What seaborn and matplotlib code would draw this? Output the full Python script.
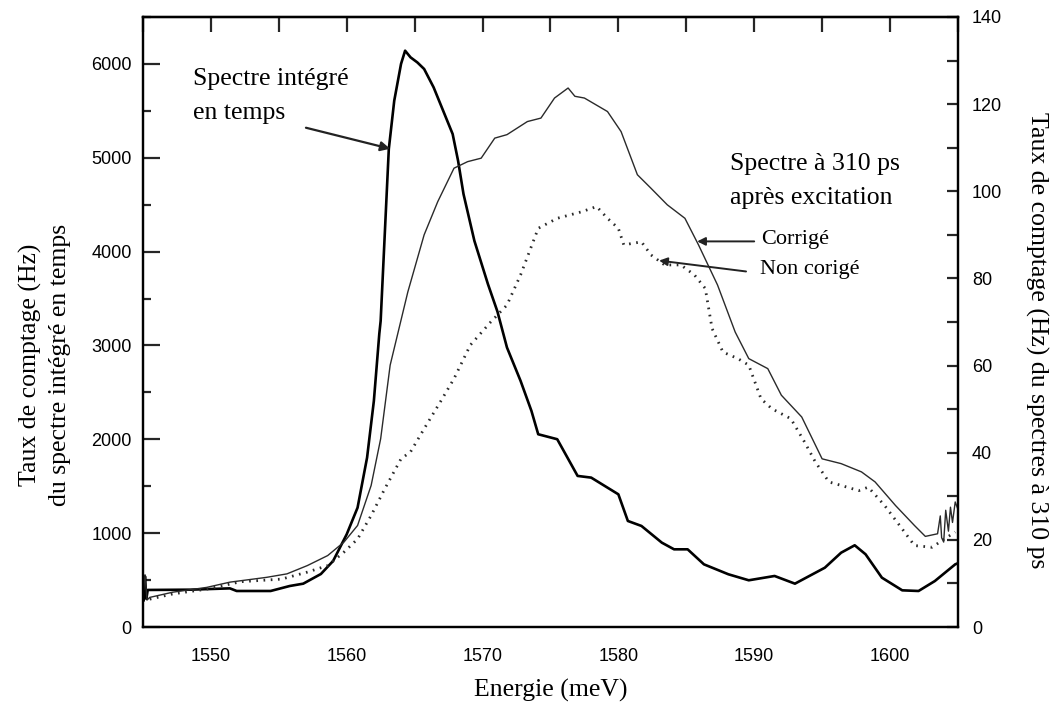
import matplotlib
matplotlib.use("Agg")
import matplotlib.pyplot as plt
from matplotlib.ticker import MultipleLocator
import seaborn as sns
import pandas as pd

# Time-integrated spectrum (left axis, Hz)
energy_int = [1545.05, 1545.15, 1545.25, 1545.35, 1548.5, 1551.4, 1551.9, 1554.4, 1555.8,
              1556.8, 1558.1, 1559.0, 1560.0, 1560.8, 1561.5, 1562.0, 1562.4, 1562.5,
              1563.1, 1563.5, 1564.0, 1564.3, 1564.7, 1565.2, 1565.7, 1566.4, 1567.2,
              1567.8, 1568.2, 1568.6, 1569.4, 1570.4, 1571.1, 1571.8, 1572.8, 1573.6,
              1574.1, 1575.5, 1577.0, 1578.0, 1580.0, 1580.7, 1581.7, 1583.2, 1584.1,
              1585.1, 1586.3, 1588.1, 1589.6, 1591.5, 1593.0, 1595.2, 1596.4, 1597.4,
              1598.2, 1599.4, 1600.9, 1602.1, 1603.3, 1604.8, 1605.0]
counts_int = [280, 540, 300, 395, 398, 412, 384, 384, 437,
              462, 565, 704, 988, 1272, 1805, 2409, 3124, 3262,
              5093, 5608, 6000, 6141, 6070, 6016, 5946, 5750, 5466,
              5253, 4968, 4613, 4115, 3653, 3360, 2978, 2623, 2303,
              2054, 2001, 1610, 1592, 1414, 1130, 1077, 899, 828,
              828, 668, 562, 498, 544, 462, 632, 792, 871,
              775, 526, 391, 384, 490, 668, 680]

# Spectrum 310 ps after excitation, corrected (right axis, Hz)
energy_corr = [1545.05, 1545.15, 1545.3, 1545.5, 1547.2, 1549.7, 1551.4, 1554.1, 1555.6,
               1557.1, 1558.6, 1559.8, 1560.8, 1561.8, 1562.5, 1563.2, 1564.5, 1565.7,
               1566.7, 1567.9, 1568.9, 1569.9, 1570.9, 1571.8, 1573.3, 1574.3, 1575.3,
               1576.3, 1576.8, 1577.5, 1579.2, 1580.2, 1581.4, 1582.4, 1583.6, 1584.9,
               1585.9, 1587.3, 1588.6, 1589.6, 1591.0, 1592.0, 1593.5, 1595.0, 1596.4,
               1597.9, 1598.9, 1600.4, 1601.8, 1602.6, 1603.5, 1603.7, 1603.8, 1603.95,
               1604.1, 1604.3, 1604.45, 1604.6, 1604.8, 1605.0]
counts_corr = [8.5, 12.0, 6.2, 6.8, 8.0, 9.1, 10.3, 11.4, 12.2,
               14.1, 16.4, 19.5, 23.3, 32.5, 43.2, 60.1, 76.9, 90.0,
               97.6, 105.3, 106.8, 107.6, 112.2, 113.0, 116.0, 116.8, 121.4,
               123.7, 121.8, 121.4, 118.3, 113.7, 103.8, 100.7, 96.9, 93.8,
               87.7, 78.5, 67.7, 61.6, 59.3, 53.2, 48.2, 38.6, 37.5,
               35.6, 33.3, 27.9, 23.3, 20.8, 21.4, 25.5, 20.5, 19.5,
               26.8, 22.0, 27.5, 24.0, 28.7, 27.0]

# Spectrum 310 ps after excitation, uncorrected (right axis, Hz)
energy_nc = [1545.5, 1547.2, 1549.7, 1552.2, 1555.2, 1557.1, 1558.6, 1559.8, 1560.8,
             1561.8, 1562.8, 1564.0, 1564.7, 1565.7, 1566.9, 1567.9, 1569.1, 1570.6,
             1571.8, 1572.8, 1574.1, 1575.5, 1577.3, 1578.4, 1579.2, 1580.0, 1580.4,
             1581.7, 1582.4, 1583.4, 1584.6, 1585.6, 1586.4, 1586.9, 1587.7, 1588.8,
             1589.6, 1590.5, 1591.3, 1592.7, 1593.7, 1594.5, 1595.5, 1596.4, 1597.7,
             1598.4, 1599.6, 1600.9, 1601.8, 1603.1, 1603.8, 1604.8]
counts_nc = [6.4, 7.6, 8.7, 10.4, 11.0, 12.6, 14.1, 17.2, 20.2,
             25.6, 31.7, 38.6, 40.2, 45.5, 51.7, 57.0, 64.7, 70.0,
             73.9, 80.8, 91.5, 93.8, 95.3, 96.5, 93.8, 91.5, 87.7,
             88.4, 85.4, 83.1, 83.1, 80.8, 77.7, 68.5, 63.1, 61.6,
             60.1, 52.4, 50.1, 47.8, 42.5, 37.9, 33.3, 32.5, 31.3,
             32.1, 27.9, 22.5, 18.7, 18.3, 19.8, 21.8]

df_int = pd.DataFrame({"Energie": energy_int, "Taux": counts_int})
df_corr = pd.DataFrame({"Energie": energy_corr, "Taux": counts_corr})
df_nc = pd.DataFrame({"Energie": energy_nc, "Taux": counts_nc})

sns.set_style("white")
serif = ["Liberation Serif", "DejaVu Serif"]
sans = ["Liberation Sans", "DejaVu Sans"]
plt.rcParams["font.family"] = sans
plt.rcParams["text.color"] = "black"
plt.rcParams["axes.labelcolor"] = "black"

fig = plt.figure(figsize=(10.55, 7.05), dpi=100)
ax = fig.add_axes([0.1355, 0.1106, 0.7725, 0.8653])
ax2 = ax.twinx()

sns.lineplot(data=df_int, x="Energie", y="Taux", ax=ax, color="black",
             linewidth=1.9, sort=False, estimator=None)
sns.lineplot(data=df_corr, x="Energie", y="Taux", ax=ax2, color="#2a2a2a",
             linewidth=1.0, sort=False, estimator=None)
sns.lineplot(data=df_nc, x="Energie", y="Taux", ax=ax2, color="#2a2a2a",
             linewidth=2.0, linestyle=(0, (0.6, 2.0)), sort=False, estimator=None)

ax.set_xlim(1545, 1605)
ax.set_ylim(0, 6500)
ax2.set_ylim(0, 140)

ax.xaxis.set_major_locator(MultipleLocator(10))
ax.xaxis.set_minor_locator(MultipleLocator(5))
ax.yaxis.set_major_locator(MultipleLocator(1000))
ax.yaxis.set_minor_locator(MultipleLocator(500))
ax2.yaxis.set_major_locator(MultipleLocator(20))
ax2.yaxis.set_minor_locator(MultipleLocator(10))

for a in (ax, ax2):
    for s in a.spines.values():
        s.set_linewidth(1.6)
        s.set_color("black")

ax.tick_params(axis="x", which="major", direction="out", length=9, width=1.6,
               labelsize=13, pad=6, labelcolor="black")
ax.tick_params(axis="x", which="minor", direction="out", length=6, width=1.6)
ax.tick_params(axis="y", which="major", direction="in", length=12, width=1.6,
               left=True, right=False, labelsize=13, pad=8, labelcolor="black")
ax.tick_params(axis="y", which="minor", direction="in", length=6, width=1.6, left=True)
ax2.tick_params(axis="y", which="major", direction="in", length=8, width=1.6,
                labelsize=13, pad=10, labelcolor="black")
ax2.tick_params(axis="y", which="minor", direction="in", length=8, width=1.6)

# inward ticks along the top edge
sec = ax.secondary_xaxis("top")
sec.xaxis.set_major_locator(MultipleLocator(5))
sec.tick_params(axis="x", which="major", direction="in", length=11, width=1.6,
                labeltop=False)
sec.spines["top"].set_linewidth(1.6)

ax.set_xlabel("Energie (meV)", fontsize=18.5, family=serif, labelpad=10,
              color="black")
ax.set_ylabel("Taux de comptage (Hz)\ndu spectre intégré en temps", fontsize=18.5,
              family=serif, linespacing=1.45, color="black")
ax.yaxis.set_label_coords(-0.088, 0.43)
ax2.set_ylabel("Taux de comptage (Hz) du spectres à 310 ps", fontsize=18.5,
               family=serif, rotation=270, va="center", color="black")
ax2.yaxis.set_label_coords(1.096, 0.47)

# annotations
ax.text(1548.7, 5660, "Spectre intégré\nen temps", fontsize=18.5, family=serif,
        va="center", ha="left", linespacing=1.7)
ax.annotate("", xy=(1563.2, 5096), xytext=(1557.0, 5320),
            arrowprops=dict(arrowstyle="-|>", color="#222222", lw=1.6,
                            mutation_scale=14, shrinkA=0, shrinkB=0))
ax2.text(1588.2, 102.4, "Spectre à 310 ps\naprès excitation", fontsize=18.5,
         family=serif, va="center", ha="left", linespacing=1.7)
ax2.text(1590.5, 88.9, "Corrigé", fontsize=16, family=serif, va="center", ha="left")
ax2.text(1590.4, 82.1, "Non corigé", fontsize=16, family=serif, va="center", ha="left")
ax2.annotate("", xy=(1585.8, 88.5), xytext=(1590.0, 88.5),
             arrowprops=dict(arrowstyle="-|>", color="#222222", lw=1.4,
                             mutation_scale=12, shrinkA=0, shrinkB=0))
ax2.annotate("", xy=(1583.0, 84.1), xytext=(1589.4, 81.6),
             arrowprops=dict(arrowstyle="-|>", color="#222222", lw=1.4,
                             mutation_scale=12, shrinkA=0, shrinkB=0))

fig.savefig("out.png", dpi=100)
